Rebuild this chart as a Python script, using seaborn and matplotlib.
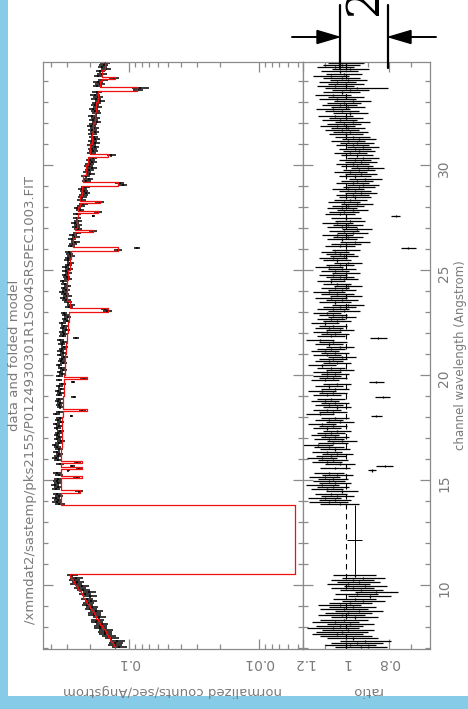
import numpy as np
import matplotlib
matplotlib.use("Agg")
import matplotlib.pyplot as plt
import seaborn as sns
from matplotlib.lines import Line2D
from matplotlib.patches import Rectangle, Polygon
from matplotlib.ticker import MultipleLocator, LogLocator, FixedLocator, FuncFormatter, NullFormatter

# ---------------- data ----------------
title = "data and folded model"
file_path = "/xmmdat2/sastemp/pks2155/P0124930301R1S004SRSPEC1003.FIT"
flux_label = "normalized counts/sec/Angstrom"
ratio_label = "ratio"
wave_label = "channel wavelength (Angstrom)"

bin_width = 0.1                      # Angstrom
short_range = (7.0, 10.5)            # first chip segment
long_range = (13.8, 35.0)            # second segment
gap_range = (10.5, 13.8)             # chip gap (one wide bin)

# ratio (data / model) per 0.1 A bin, 7.0 - 10.5 A
ratio_short = [0.93, 0.98, 0.95, 0.91, 0.97, 1.00, 1.04, 1.02, 0.99, 1.06,
               1.03, 0.98, 1.05, 1.01, 0.96, 1.02, 0.99, 0.94, 1.01, 0.97,
               1.03, 0.98, 0.92, 0.96, 0.89, 0.95, 0.86, 0.93, 0.97, 0.91,
               0.99, 0.94, 0.97, 0.92, 0.96]
# ratio per 0.1 A bin, 13.8 - 35.0 A
ratio_long = [1.03, 1.08, 1.05, 1.10, 1.04, 1.07, 1.02, 1.09, 1.06, 1.11, 1.05, 1.08,
              1.06, 1.10, 1.04, 1.08, 1.12, 1.05, 1.07, 1.03, 1.09, 1.06,
              1.11, 1.07, 1.04, 1.09, 1.05, 1.08, 1.13, 1.06, 1.02, 1.08,
              1.05, 1.10, 1.07, 1.04, 1.09, 1.06, 1.11, 1.03, 1.08, 1.05,
              1.07, 1.12, 1.06, 1.09, 1.04, 1.08, 1.05, 1.10, 1.07, 1.03,
              1.09, 1.06, 1.11, 1.05, 1.08, 1.04, 1.07, 1.10, 1.06, 1.09,
              1.05, 1.09, 1.03, 1.07, 1.11, 1.04, 1.08, 1.06, 1.02, 1.09,
              1.05, 1.10, 1.07, 1.03, 1.08, 1.06, 1.12, 1.04, 1.07, 1.05,
              1.09, 1.03, 1.08, 1.06, 1.10, 1.04, 1.07, 1.02, 1.06, 1.09,
              1.01, 1.06, 1.03, 0.99, 1.05, 1.02, 1.07, 1.00, 1.04, 1.08,
              1.02, 1.05, 0.99, 1.04, 1.07, 1.01, 1.03, 1.06, 1.00, 1.05,
              1.02, 1.08, 1.03, 0.99, 1.04, 1.06, 1.01, 1.03, 1.05, 1.00,
              0.98, 1.03, 1.00, 0.96, 1.02, 0.99, 1.04, 0.97, 1.01, 0.95,
              1.02, 0.99, 1.04, 0.98, 1.00, 0.96, 1.03, 1.01, 0.97, 1.02,
              0.99, 0.95, 1.01, 0.98, 0.96,
              0.97, 0.93, 0.96, 0.99, 0.94, 0.92, 0.97, 0.95, 0.91, 0.96,
              0.93, 0.98, 0.94, 0.90, 0.95, 0.97, 0.93, 0.96, 0.92, 0.95,
              0.98, 0.94, 0.96, 0.92, 0.97, 0.95, 0.99, 0.94, 0.97, 1.00,
              0.98, 1.02, 0.99, 1.04, 1.01, 0.97, 1.03, 1.00, 1.05, 0.98,
              1.02, 1.06, 0.99, 1.03, 1.01, 0.97, 1.04, 1.00, 1.06, 1.02,
              0.98, 1.03, 1.05, 1.00, 1.04, 0.99, 1.02, 1.07, 1.01, 1.03,
              0.98, 1.05, 1.02, 1.00, 1.04]
# 1-sigma ratio error per whole Angstrom (7 .. 34)
err_start = 7
ratio_err = [0.12, 0.11, 0.10, 0.10, 0.10, 0.10, 0.09, 0.075, 0.07, 0.07,
             0.065, 0.065, 0.065, 0.065, 0.065, 0.065, 0.075, 0.065, 0.065, 0.07,
             0.07, 0.075, 0.075, 0.075, 0.08, 0.08, 0.085, 0.085]
# bins with unusually low ratio / own error
outlier_wl = [33.65, 27.55, 26.05, 21.75, 19.65, 18.95, 18.05, 15.65, 15.45]
outlier_ratio = [0.95, 0.77, 0.71, 0.85, 0.86, 0.83, 0.86, 0.82, 0.88]
outlier_err = [0.147, 0.02, 0.035, 0.04, 0.035, 0.035, 0.025, 0.04, 0.02]
gap_ratio, gap_ratio_err = 0.96, 0.035

# folded model continuum (counts/s/A)
model_short = [0.128, 0.131, 0.134, 0.137, 0.141, 0.144, 0.147, 0.151, 0.154, 0.158,
               0.162, 0.166, 0.170, 0.174, 0.178, 0.182, 0.187, 0.191, 0.196, 0.200,
               0.205, 0.210, 0.215, 0.220, 0.225, 0.231, 0.236, 0.242, 0.248, 0.253,
               0.259, 0.266, 0.272, 0.278, 0.285]            # per 0.1 A bin
model_long_start, model_long_step = 13.5, 0.5
model_long = [0.333, 0.334, 0.334, 0.333, 0.332, 0.331, 0.329, 0.327, 0.326, 0.324,
              0.321, 0.318, 0.315, 0.312, 0.309, 0.306, 0.302, 0.297, 0.291, 0.283,
              0.298, 0.300, 0.293, 0.285, 0.278, 0.270, 0.261, 0.252, 0.245, 0.238,
              0.232, 0.225, 0.215, 0.207, 0.200, 0.193, 0.188, 0.183, 0.178, 0.173,
              0.167, 0.161, 0.154]                           # per 0.5 A
gap_model = 0.00528
# absorption lines in the model
line_wl = [34.15, 33.6, 30.45, 29.1, 28.25, 27.75, 26.85, 26.0, 23.1, 19.85, 18.35,
           15.85, 15.55, 15.15, 14.45]
line_nbins = [1, 2, 1, 2, 1, 1, 1, 2, 2, 1, 1, 1, 1, 1, 1]
line_flux = [0.128, 0.087, 0.145, 0.122, 0.167, 0.173, 0.189, 0.122, 0.145, 0.210,
             0.210, 0.230, 0.230, 0.230, 0.238]

# ---------------- build bins ----------------
c_short = np.round(short_range[0] + bin_width / 2 + bin_width * np.arange(len(ratio_short)), 3)
c_long = np.round(long_range[0] + bin_width / 2 + bin_width * np.arange(len(ratio_long)), 3)
centers = np.concatenate([c_short, c_long])
ratio = np.array(ratio_short + ratio_long, dtype=float)
err = np.array([ratio_err[int(np.floor(c)) - err_start] for c in centers])
for w, r, e in zip(outlier_wl, outlier_ratio, outlier_err):
    i = int(np.argmin(np.abs(centers - w)))
    ratio[i], err[i] = r, e

m_long = np.array([model_long[int((c - model_long_start) // model_long_step)] for c in c_long])
model = np.concatenate([np.array(model_short), m_long])
for w, n, f in zip(line_wl, line_nbins, line_flux):
    mask = np.abs(centers - w) < n * bin_width / 2 + 1e-6
    model[mask] = f

flux = model * ratio
flux_err = model * err

# step outline of model (including the gap bin)
lo = centers - bin_width / 2
hi = centers + bin_width / 2
n_s = len(c_short)
all_lo = np.concatenate([lo[:n_s], [gap_range[0]], lo[n_s:]])
all_hi = np.concatenate([hi[:n_s], [gap_range[1]], hi[n_s:]])
all_m = np.concatenate([model[:n_s], [gap_model], model[n_s:]])
step_y = np.column_stack([all_lo, all_hi]).ravel()
step_x = np.repeat(all_m, 2)

# ---------------- figure ----------------
sns.set_theme(style="ticks")
plt.rcParams["font.family"] = ["DejaVu Sans"]
grey = "#8a8a8a"
tgrey = "#7a7a7a"
plt.rcParams.update({
    "axes.edgecolor": grey, "axes.linewidth": 0.9,
    "xtick.color": grey, "ytick.color": grey,
    "xtick.labelcolor": tgrey, "ytick.labelcolor": tgrey,
    "axes.labelcolor": tgrey,
})

W, H = 468, 709
fig = plt.figure(figsize=(W / 100, H / 100), dpi=100)
fig.patch.set_facecolor("white")

def fx(px):
    return px / W

def fy(py):
    return 1 - py / H

L, M, R, T, B = 43, 303, 430, 62, 649
ax_top = fig.add_axes([fx(L), fy(B), fx(M) - fx(L), fy(T) - fy(B)])
ax_rat = fig.add_axes([fx(M), fy(B), fx(R) - fx(M), fy(T) - fy(B)], sharey=ax_top)

# data
ax_top.errorbar(flux, centers, xerr=flux_err, yerr=bin_width / 2, fmt="none",
                ecolor="black", elinewidth=1.1, capsize=0, zorder=2)
sns.lineplot(x=step_x, y=step_y, sort=False, estimator=None, color="#f01010",
             lw=0.9, ax=ax_top, zorder=3)

ax_rat.axvline(1.0, color="black", ls=(0, (5, 4)), lw=0.8, zorder=1)
ax_rat.errorbar(ratio, centers, xerr=err, yerr=bin_width / 2, fmt="none",
                ecolor="black", elinewidth=0.9, capsize=0, zorder=2)
ax_rat.errorbar([gap_ratio], [(gap_range[0] + gap_range[1]) / 2], xerr=[gap_ratio_err],
                yerr=[(gap_range[1] - gap_range[0]) / 2], fmt="none",
                ecolor="black", elinewidth=0.7, capsize=0, zorder=2)

# axes
ax_top.set_xscale("log")
ax_top.set_xlim(0.459, 0.00459)
ax_rat.set_xlim(1.2, 0.61)
ax_top.set_ylim(6.95, 34.9)

for ax in (ax_top, ax_rat):
    ax.yaxis.set_major_locator(MultipleLocator(5))
    ax.yaxis.set_minor_locator(MultipleLocator(1))
    ax.tick_params(axis="both", which="both", direction="in", top=True, bottom=True,
                   left=True, right=True, width=0.9)
    ax.tick_params(axis="both", which="major", length=7)
    ax.tick_params(axis="both", which="minor", length=3.5)
    ax.set_xlabel("")
    ax.set_ylabel("")

ax_top.xaxis.set_major_locator(FixedLocator([0.001, 0.01, 0.1, 1.0]))
ax_top.xaxis.set_minor_locator(LogLocator(base=10, subs=np.arange(2, 10)))
ax_top.xaxis.set_minor_formatter(NullFormatter())
ax_top.xaxis.set_major_formatter(FuncFormatter(lambda v, p: f"{v:g}"))
ax_rat.xaxis.set_major_locator(FixedLocator([1.2, 1.0, 0.8, 0.6]))
ax_rat.xaxis.set_minor_locator(FixedLocator([1.1, 0.9, 0.7]))
ax_rat.xaxis.set_major_formatter(FuncFormatter(lambda v, p: f"{v:g}"))

ax_top.tick_params(axis="y", labelleft=False, labelright=False)
ax_rat.tick_params(axis="y", labelleft=False, labelright=True, labelrotation=90,
                   pad=5, labelsize=10)
for ax in (ax_top, ax_rat):
    ax.tick_params(axis="x", labelrotation=180, labelsize=10, pad=5)

ax_top.set_xlabel(flux_label, rotation=180, fontsize=9.5, labelpad=10)
ax_rat.set_xlabel(ratio_label, rotation=180, fontsize=9.5, labelpad=10)
ax_rat.yaxis.set_label_position("right")
ax_rat.set_ylabel(wave_label, rotation=90, fontsize=8.5, labelpad=2)

fig.text(fx(15), fy(355), title, rotation=90, ha="center", va="center",
         fontsize=9.5, color=tgrey)
fig.text(fx(31), fy(400), file_path, rotation=90, ha="center", va="center",
         fontsize=9.5, color=tgrey)

# light blue frame strips
fig.add_artist(Rectangle((0, 0), fx(8), 1, transform=fig.transFigure,
                         facecolor="#86cce8", edgecolor="none", zorder=0))
fig.add_artist(Rectangle((0, 0), 1, 13 / H, transform=fig.transFigure,
                         facecolor="#86cce8", edgecolor="none", zorder=0))

# dimension annotation (top right)
for xp in (340, 388):
    fig.add_artist(Line2D([fx(xp), fx(xp)], [fy(5), fy(68)], transform=fig.transFigure,
                          color="black", lw=1.6))
fig.add_artist(Line2D([fx(292), fx(320)], [fy(37), fy(37)], transform=fig.transFigure,
                      color="black", lw=1.4))
fig.add_artist(Line2D([fx(408), fx(436)], [fy(37), fy(37)], transform=fig.transFigure,
                      color="black", lw=1.4))
fig.add_artist(Polygon([[fx(317), fy(30.5)], [fx(339), fy(37)], [fx(317), fy(43.5)]],
                       closed=True, transform=fig.transFigure, facecolor="black",
                       edgecolor="black"))
fig.add_artist(Polygon([[fx(411), fy(30.5)], [fx(389), fy(37)], [fx(411), fy(43.5)]],
                       closed=True, transform=fig.transFigure, facecolor="black",
                       edgecolor="black"))
fig.text(fx(364), fy(15), "2", rotation=90, ha="center", va="bottom", fontsize=32,
         family=["DejaVu Serif"], color="black")

fig.savefig("out.png", dpi=100, facecolor="white")
